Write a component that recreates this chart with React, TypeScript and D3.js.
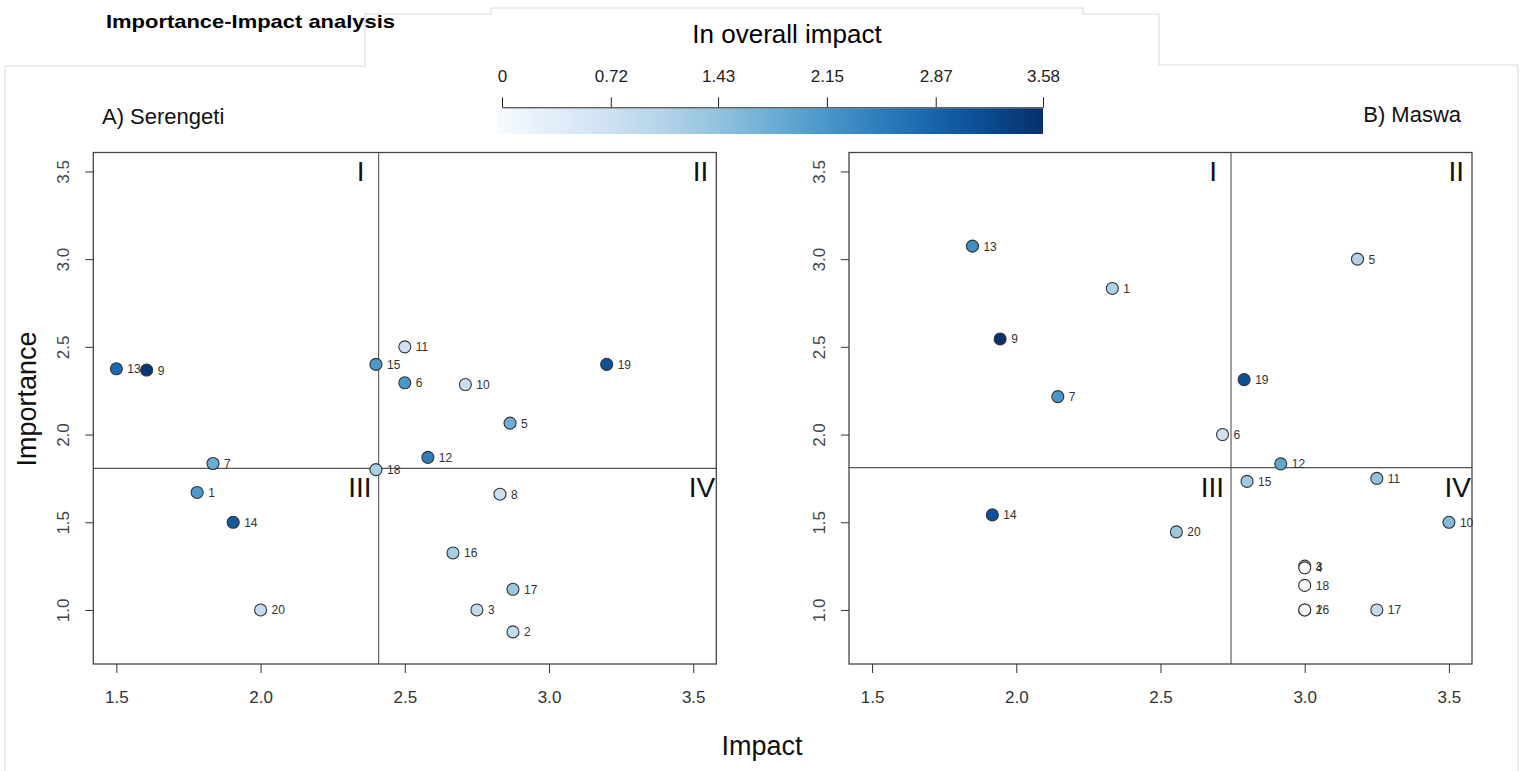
import React, { useEffect, useRef } from "react";
import * as d3 from "d3";

// Serengeti (panel A)
const serengetiIds = [1, 2, 3, 5, 6, 7, 8, 9, 10, 11, 12, 13, 14, 15, 16, 17, 18, 19, 20];
const serengetiImpact = [1.78, 2.875, 2.75, 2.865, 2.5, 1.835, 2.83, 1.605, 2.71, 2.5, 2.58, 1.5, 1.905, 2.4, 2.667, 2.875, 2.4, 3.2, 2.0];
const serengetiImportance = [1.67, 0.875, 1.0, 2.065, 2.295, 1.835, 1.66, 2.368, 2.285, 2.5, 1.87, 2.375, 1.5, 2.4, 1.325, 1.118, 1.8, 2.4, 1.0];
const serengetiOverall = [2.1, 0.9, 0.9, 1.8, 2.15, 1.8, 0.8, 3.5, 0.8, 0.7, 2.5, 2.8, 3.0, 2.15, 1.25, 1.35, 1.2, 3.1, 0.9];

// Maswa (panel B)
const maswaIds = [1, 2, 3, 4, 5, 6, 7, 9, 10, 11, 12, 13, 14, 15, 16, 17, 18, 19, 20];
const maswaImpact = [2.333, 3.0, 3.0, 3.0, 3.183, 2.715, 2.144, 1.944, 3.5, 3.25, 2.917, 1.848, 1.917, 2.8, 3.0, 3.25, 3.0, 2.79, 2.555];
const maswaImportance = [2.833, 1.0, 1.25, 1.24, 3.0, 2.0, 2.216, 2.545, 1.5, 1.75, 1.833, 3.074, 1.542, 1.733, 1.0, 1.0, 1.14, 2.313, 1.445];
const maswaOverall = [1.15, 0, 0, 0, 1.1, 0.7, 2.15, 3.58, 1.6, 1.45, 1.9, 2.3, 3.1, 1.3, 0, 0.9, 0, 3.15, 1.35];

const impactTicks = [1.5, 2.0, 2.5, 3.0, 3.5];
const importanceTicks = [1.0, 1.5, 2.0, 2.5, 3.0, 3.5];
const legendTicks = [0, 0.72, 1.43, 2.15, 2.87, 3.58];
const quadrantNames = ["I", "II", "III", "IV"];

const FONT = "'Liberation Sans', Arial, sans-serif";

const App = () => {
  const svgRef = useRef(null);

  useEffect(() => {
    const svg = d3.select(svgRef.current);
    svg.selectAll("*").remove();

    const top = 152.5, bottom = 664, plotW = 623;
    const color = d3.scaleSequential(d3.interpolateBlues).domain([0, 3.58]);

    // faint frame lines left over from the composed figure
    svg.append("polyline")
      .attr("points", "5,771 5,66 365,66 365,14 491,14 491,8 1083,8 1083,14 1159,14 1159,65 1518,65 1518,771")
      .attr("fill", "none").attr("stroke", "#dedede").attr("stroke-width", 1.2);

    svg.append("text")
      .attr("x", 106).attr("y", 28)
      .attr("font-family", FONT).attr("font-weight", "bold").attr("font-size", 19)
      .attr("textLength", 289).attr("lengthAdjust", "spacingAndGlyphs")
      .text("Importance-Impact analysis");

    // colour legend
    const defs = svg.append("defs");
    const grad = defs.append("linearGradient").attr("id", "blues");
    d3.range(0, 1.0001, 0.1).forEach((t) => {
      grad.append("stop").attr("offset", t).attr("stop-color", d3.interpolateBlues(t));
    });
    const lx = d3.scaleLinear().domain([0, 3.58]).range([502, 1043]);
    svg.append("rect").attr("x", 497).attr("y", 108.3).attr("width", 1043 - 497).attr("height", 25.7)
      .attr("fill", "url(#blues)");
    const lAxis = svg.append("g").attr("transform", "translate(0,107.3)")
      .call(d3.axisTop(lx).tickValues(legendTicks).tickFormat((d) => String(d)).tickSize(10).tickSizeOuter(0).tickPadding(15.5));
    lAxis.selectAll("path,line").attr("stroke", "#222");
    lAxis.selectAll("text").attr("font-family", FONT).attr("font-size", 17).attr("fill", "#222");
    svg.append("text").attr("x", 787).attr("y", 43).attr("text-anchor", "middle")
      .attr("font-family", FONT).attr("font-size", 26).text("In overall impact");

    const panels = [
      { title: "A) Serengeti", tx: 102, ty: 124, anchor: "start", left: 93.3, ids: serengetiIds, imp: serengetiImpact, ipt: serengetiImportance, ov: serengetiOverall },
      { title: "B) Maswa", tx: 1461, ty: 122, anchor: "end", left: 849, ids: maswaIds, imp: maswaImpact, ipt: maswaImportance, ov: maswaOverall },
    ];

    panels.forEach((p) => {
      const x = d3.scaleLinear().domain([1.42, 3.58]).range([p.left, p.left + plotW]);
      const y = d3.scaleLinear().domain([0.692, 3.608]).range([bottom, top]);

      svg.append("text").attr("x", p.tx).attr("y", p.ty).attr("text-anchor", p.anchor)
        .attr("font-family", FONT).attr("font-size", 22).attr("fill", "#111").text(p.title);

      // axes
      const gx = svg.append("g").attr("transform", `translate(0,${bottom})`)
        .call(d3.axisBottom(x).tickValues(impactTicks).tickFormat(d3.format(".1f")).tickSize(9).tickPadding(18));
      gx.select(".domain").remove();
      gx.selectAll("line").attr("stroke", "#333");
      gx.selectAll("text").attr("font-family", FONT).attr("font-size", 17).attr("fill", "#333");

      const gy = svg.append("g").attr("transform", `translate(${p.left},0)`)
        .call(d3.axisLeft(y).tickValues(importanceTicks).tickFormat(d3.format(".1f")).tickSize(8));
      gy.select(".domain").remove();
      gy.selectAll("line").attr("stroke", "#333");
      gy.selectAll("text")
        .attr("x", null).attr("dy", null)
        .attr("transform", "translate(-24,0) rotate(-90)")
        .attr("text-anchor", "middle")
        .attr("font-family", FONT).attr("font-size", 17).attr("fill", "#444");

      // quadrant split at the means
      const mx = d3.mean(p.imp);
      const my = d3.mean(p.ipt);
      svg.append("line").attr("x1", x(mx)).attr("x2", x(mx)).attr("y1", top).attr("y2", bottom)
        .attr("stroke", "#555").attr("stroke-width", 1.1);
      svg.append("line").attr("x1", p.left).attr("x2", p.left + plotW).attr("y1", y(my)).attr("y2", y(my))
        .attr("stroke", "#555").attr("stroke-width", 1.1);

      const qpos = [
        [x(mx) - 14, top + 28],
        [p.left + plotW - 8, top + 28],
        [x(mx) - 7, y(my) + 29],
        [p.left + plotW - 1, y(my) + 29],
      ];
      quadrantNames.forEach((q, i) => {
        svg.append("text").attr("x", qpos[i][0]).attr("y", qpos[i][1]).attr("text-anchor", "end")
          .attr("font-family", FONT).attr("font-size", 28).attr("fill", "#111").text(q);
      });

      svg.append("rect").attr("x", p.left).attr("y", top).attr("width", plotW).attr("height", bottom - top)
        .attr("fill", "none").attr("stroke", "#444").attr("stroke-width", 1.3);

      const g = svg.append("g").selectAll("g").data(p.ids).enter().append("g");
      g.append("circle")
        .attr("cx", (d, i) => x(p.imp[i]))
        .attr("cy", (d, i) => y(p.ipt[i]))
        .attr("r", 6)
        .attr("fill", (d, i) => color(p.ov[i]))
        .attr("stroke", "#333").attr("stroke-width", 1.1);
      g.append("text")
        .attr("x", (d, i) => x(p.imp[i]) + 11)
        .attr("y", (d, i) => y(p.ipt[i]) + 4.5)
        .attr("font-family", FONT).attr("font-size", 12).attr("fill", "#333")
        .text((d) => d);
    });

    svg.append("text").attr("x", 762).attr("y", 755).attr("text-anchor", "middle")
      .attr("font-family", FONT).attr("font-size", 27).attr("fill", "#111").text("Impact");
    svg.append("text").attr("transform", "translate(36,399) rotate(-90)").attr("text-anchor", "middle")
      .attr("font-family", FONT).attr("font-size", 27).attr("fill", "#111").text("Importance");
  });

  return (
    <svg ref={svgRef} width={1524} height={771}
      style={{ position: "absolute", left: 0, top: 0, background: "#fff" }}></svg>
  );
};

export default App;
